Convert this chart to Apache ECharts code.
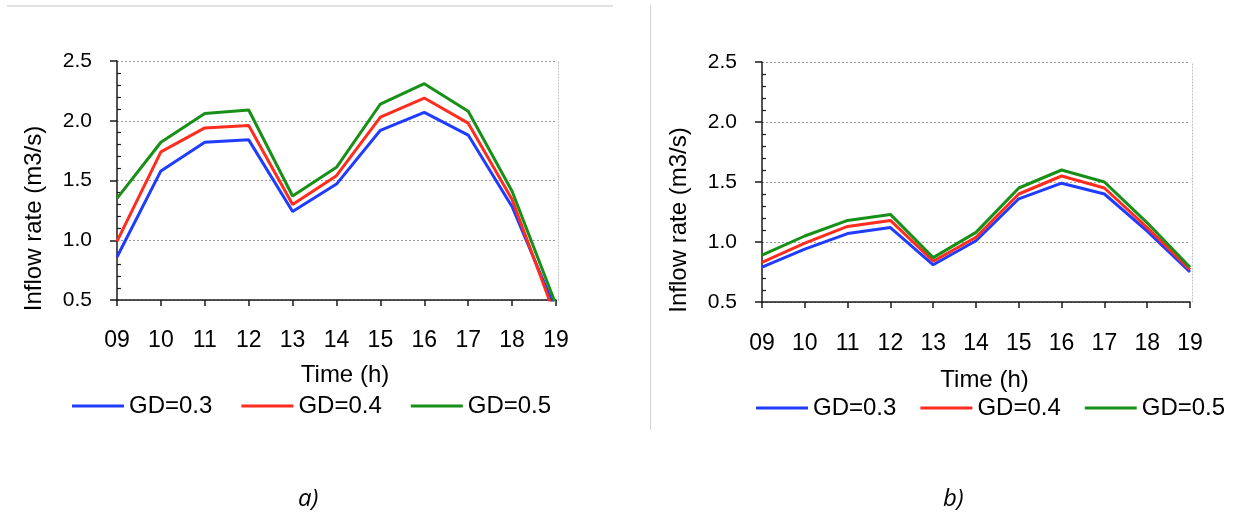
<!DOCTYPE html>
<html>
<head>
<meta charset="utf-8">
<script src="https://cdn.jsdelivr.net/npm/echarts@6/dist/echarts.min.js"></script>
<style>
html,body{margin:0;padding:0;background:#fff;}
#chart{width:1255px;height:513px;}
</style>
</head>
<body>
<div id="chart"></div>
<script>
// ---- data ----
var categories = ['09','10','11','12','13','14','15','16','17','18','19'];
var seriesNames = ['GD=0.3','GD=0.4','GD=0.5'];
var yTickLabels = ['0.5','1.0','1.5','2.0','2.5'];
// panel a)
var a_gd03 = [0.86, 1.58, 1.82, 1.84, 1.24, 1.47, 1.92, 2.07, 1.88, 1.28, 0.41];
var a_gd04 = [0.99, 1.74, 1.94, 1.96, 1.30, 1.54, 2.03, 2.19, 1.98, 1.34, 0.35];
var a_gd05 = [1.35, 1.82, 2.06, 2.09, 1.37, 1.61, 2.14, 2.31, 2.08, 1.41, 0.46];
// panel b)
var b_gd03 = [0.79, 0.94, 1.07, 1.12, 0.81, 1.01, 1.36, 1.49, 1.40, 1.09, 0.75];
var b_gd04 = [0.83, 0.99, 1.13, 1.18, 0.84, 1.04, 1.40, 1.55, 1.45, 1.12, 0.77];
var b_gd05 = [0.89, 1.05, 1.18, 1.23, 0.87, 1.08, 1.45, 1.60, 1.50, 1.16, 0.79];
var panelLabels = ['a)', 'b)'];
var xName = 'Time (h)';
var yName = 'Inflow rate (m3/s)';

// ---- styling ----
var FONT = "'Liberation Sans', Arial, sans-serif";
var colors = ['#1f3cff', '#ff2d1f', '#189018'];
var AXIS = '#1a1a1a';

function xAxisFor(gridIndex, gap, margin) {
  return {
    type: 'category', gridIndex: gridIndex, data: categories, boundaryGap: false,
    position: 'bottom',
    axisLine: {lineStyle: {color: AXIS, width: 1.5}},
    axisTick: {show: true, length: 6, interval: 0, lineStyle: {color: AXIS, width: 1.5}},
    axisLabel: {margin: margin, fontSize: 23, color: '#000', fontFamily: FONT, interval: 0},
    splitLine: {show: false},
    name: xName, nameLocation: 'middle', nameGap: gap,
    nameTextStyle: {fontSize: 24, color: '#000', fontFamily: FONT, padding: [0, 0, 0, 17]}
  };
}
function yAxesFor(gridIndex) {
  return [
    {
      type: 'value', gridIndex: gridIndex, min: 0.5, max: 2.5, interval: 0.5,
      position: 'left', offset: 0,
      axisLine: {show: true, lineStyle: {color: AXIS, width: 1.5}},
      axisTick: {show: true, length: 7, lineStyle: {color: AXIS, width: 1.5}},
      axisLabel: {margin: 25, fontSize: 21, color: '#000', fontFamily: FONT,
        formatter: function (v) { return yTickLabels[Math.round((v - 0.5) / 0.5)]; }},
      splitLine: {show: true, lineStyle: {color: '#9a9a9a', width: 1, type: [2, 2]}},
      name: yName, nameLocation: 'middle', nameGap: 71, nameMoveOverlap: false,
      nameTextStyle: {fontSize: 24, color: '#000', fontFamily: FONT, padding: [0, 76, 0, 0]}
    },
    {
      type: 'value', gridIndex: gridIndex, min: 0.5, max: 2.5, interval: 0.5,
      position: 'left', offset: 0,
      axisLine: {show: false},
      axisTick: {show: false, inside: true},
      minorTick: {show: true, splitNumber: 5, length: 4, lineStyle: {color: AXIS, width: 1.2}},
      axisLabel: {show: false},
      splitLine: {show: false}
    },
    {
      type: 'value', gridIndex: gridIndex, min: 0.5, max: 2.5, interval: 0.5,
      position: 'right', offset: 2,
      axisLine: {show: true, lineStyle: {color: '#bdbdbd', width: 1, type: [1, 2]}},
      axisTick: {show: false}, axisLabel: {show: false}, splitLine: {show: false}
    }
  ];
}
function lineSeries(name, data, xi, yi, color) {
  return {
    type: 'line', name: name, data: data, xAxisIndex: xi, yAxisIndex: yi,
    symbol: 'none', clip: true, animation: false,
    lineStyle: {color: color, width: 3}, itemStyle: {color: color}
  };
}
function legendAt(left, top, gap) {
  return {
    data: seriesNames, left: left, top: top, orient: 'horizontal', padding: 0,
    icon: 'rect', itemWidth: 52, itemHeight: 3, itemGap: gap,
    textStyle: {fontSize: 24, color: '#000', fontFamily: FONT}
  };
}

var chart = echarts.init(document.getElementById('chart'), null, {renderer: 'canvas'});
var option = {
  animation: false,
  backgroundColor: '#fff',
  grid: [
    {left: 117, top: 61, width: 439, height: 239, outerBoundsMode: 'none', containLabel: false},
    {left: 762, top: 62, width: 428, height: 240, outerBoundsMode: 'none', containLabel: false}
  ],
  xAxis: [xAxisFor(0, 63, 29), xAxisFor(1, 66, 30)],
  yAxis: yAxesFor(0).concat(yAxesFor(1)),
  legend: [legendAt(72, 394, 29), legendAt(756, 396, 24)],
  series: [
    lineSeries(seriesNames[0], a_gd03, 0, 0, colors[0]),
    lineSeries(seriesNames[1], a_gd04, 0, 0, colors[1]),
    lineSeries(seriesNames[2], a_gd05, 0, 0, colors[2]),
    lineSeries(seriesNames[0], b_gd03, 1, 3, colors[0]),
    lineSeries(seriesNames[1], b_gd04, 1, 3, colors[1]),
    lineSeries(seriesNames[2], b_gd05, 1, 3, colors[2])
  ],
  graphic: [
    {type: 'line', shape: {x1: 7, y1: 6, x2: 613, y2: 6}, style: {stroke: '#d9d9d9', lineWidth: 1.5}, silent: true},
    {type: 'line', shape: {x1: 650.5, y1: 5, x2: 650.5, y2: 430}, style: {stroke: '#d4d4d4', lineWidth: 1}, silent: true},
    {type: 'text', left: 298, top: 487, style: {text: panelLabels[0], font: "italic 24px 'Open Sans', 'DejaVu Sans', sans-serif", fill: '#000'}},
    {type: 'text', left: 943, top: 487, style: {text: panelLabels[1], font: "italic 24px 'Open Sans', 'DejaVu Sans', sans-serif", fill: '#000'}}
  ]
};
chart.setOption(option);
</script>
</body>
</html>
